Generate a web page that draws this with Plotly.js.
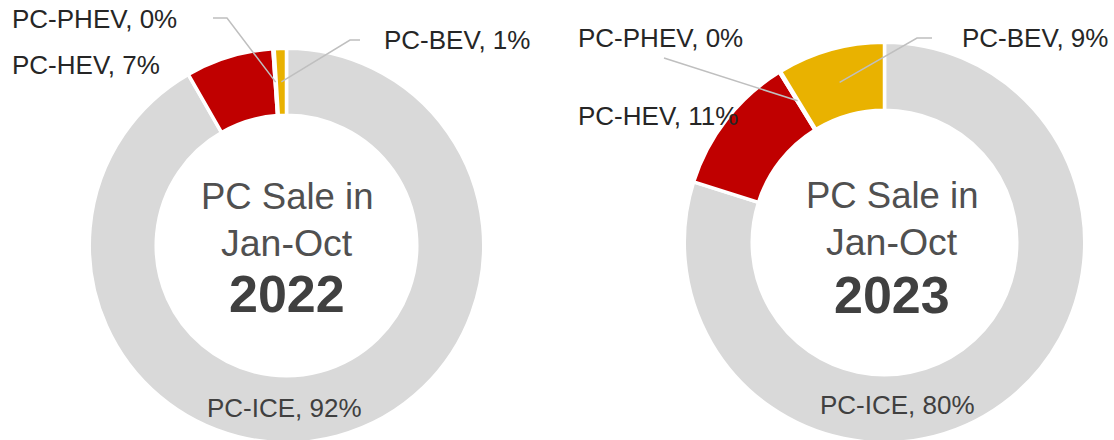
<!DOCTYPE html>
<html>
<head>
<meta charset="utf-8">
<script src="https://cdn.plot.ly/plotly-3.0.1.min.js"></script>
<style>
  html, body { margin: 0; padding: 0; background: #ffffff; overflow: hidden; }
  #chart { width: 1114px; height: 460px; }
</style>
</head>
<body>
<div id="chart"></div>
<script>
// ---- data ----
const categories = ['PC-ICE', 'PC-HEV', 'PC-PHEV', 'PC-BEV'];
const years = ['2022', '2023'];
const values2022 = [91.7, 7.2, 0.1, 1.0];
const values2023 = [79.9, 11.3, 0.1, 8.7];
const centerLine1 = 'PC Sale in';
const centerLine2 = 'Jan-Oct';

// ---- style / layout ----
const W = 1114, H = 460;
const sliceColors = ['#D9D9D9', '#C00000', '#A5A5A5', '#E9B200'];
const BW = 3.5;               // white slice border
const FONT = 'Liberation Sans, Arial, sans-serif';
const geo = [
  {cx: 286.5, cy: 245.5, R: 195.5, r: 132, tx: 287, ty: [196, 242.5, 294]},
  {cx: 884.5, cy: 242.5, R: 198.5, r: 134, tx: 892, ty: [195.5, 242, 294.5]}
];
// label anchors (px) and leader-line start waypoints (px)
const labelPos = [
  [
    {x: 284, y: 408, xa: 'center', color: '#404040'},
    {x: 10, y: 64.5, xa: 'left'},
    {x: 10, y: 19, xa: 'left', line: [[213, 18], [227, 18]]},
    {x: 382, y: 40, xa: 'left', line: [[360, 40], [350, 40]]}
  ],
  [
    {x: 897, y: 405, xa: 'center', color: '#404040'},
    {x: 576, y: 116, xa: 'left'},
    {x: 576, y: 37.5, xa: 'left', line: [[664, 58]]},
    {x: 960, y: 38, xa: 'left', line: [[932, 38], [917, 38]]}
  ]
];

const px = x => x / W;
const py = y => 1 - y / H;

const allValues = [values2022, values2023];
const traces = [];
const annotations = [];
const shapes = [];

allValues.forEach((vals, k) => {
  const g = geo[k];
  const Rp = g.R + BW / 2;
  const hole = (g.r - BW / 2) / Rp;
  traces.push({
    type: 'pie',
    labels: categories,
    values: vals,
    sort: false,
    direction: 'clockwise',
    rotation: 0,
    hole: hole,
    textinfo: 'none',
    hoverinfo: 'none',
    showlegend: false,
    marker: {colors: sliceColors, line: {color: '#FFFFFF', width: BW}},
    domain: {x: [px(g.cx - Rp), px(g.cx + Rp)], y: [py(g.cy + Rp), py(g.cy - Rp)]}
  });

  // center text
  const cText = [centerLine1, centerLine2, '<b>' + years[k] + '</b>'];
  const cSize = [36.5, 37.5, 52];
  const cCol = ['#505050', '#505050', '#404040'];
  cText.forEach((t, i) => {
    annotations.push({
      xref: 'paper', yref: 'paper', x: px(g.tx), y: py(g.ty[i]),
      xanchor: 'center', yanchor: 'middle', showarrow: false,
      text: t, font: {family: FONT, size: cSize[i], color: cCol[i]}
    });
  });

  // slice labels & leader lines
  const sum = vals.reduce((a, b) => a + b, 0);
  let cum = 0;
  const rm = (g.R + g.r) / 2;
  vals.forEach((v, i) => {
    const mid = 2 * Math.PI * (cum + v / 2) / sum;
    cum += v;
    const ex = g.cx + rm * Math.sin(mid);
    const ey = g.cy - rm * Math.cos(mid);
    const lp = labelPos[k][i];
    const pct = Math.round(v / sum * 100);
    annotations.push({
      xref: 'paper', yref: 'paper', x: px(lp.x), y: py(lp.y),
      xanchor: lp.xa, yanchor: 'middle', showarrow: false,
      text: categories[i] + ', ' + pct + '%',
      font: {family: FONT, size: 26, color: lp.color || '#262626'}
    });
    if (lp.line) {
      const pts = lp.line.concat([[ex, ey]]);
      const d = pts.map((p, j) => (j ? 'L ' : 'M ') + px(p[0]) + ' ' + py(p[1])).join(' ');
      shapes.push({
        type: 'path', xref: 'paper', yref: 'paper', path: d,
        line: {color: '#BFBFBF', width: 1.5}, layer: 'above'
      });
    }
  });
});

const layout = {
  width: W, height: H,
  margin: {l: 0, r: 0, t: 0, b: 0},
  paper_bgcolor: '#FFFFFF',
  plot_bgcolor: '#FFFFFF',
  showlegend: false,
  annotations: annotations,
  shapes: shapes
};

Plotly.newPlot('chart', traces, layout, {staticPlot: true, displayModeBar: false});
</script>
</body>
</html>
